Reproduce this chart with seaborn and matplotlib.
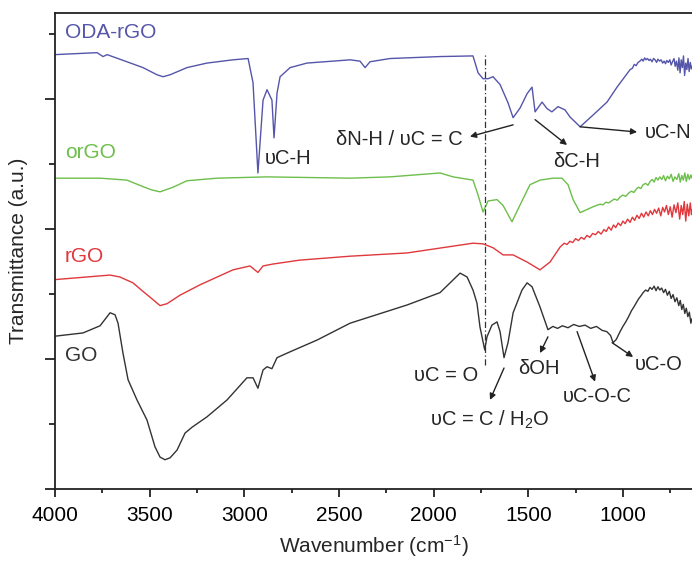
import numpy as np
import pandas as pd
import matplotlib
matplotlib.use("Agg")
import matplotlib.pyplot as plt
from matplotlib.ticker import MultipleLocator
import seaborn as sns

# ---------------- data ----------------
oda_w = [4000, 3778, 3746, 3725, 3620, 3535, 3461, 3429, 3392, 3303, 3197, 3060, 2980, 2954,
         2928, 2901, 2880, 2854, 2843, 2827, 2811, 2758, 2669, 2531, 2441, 2389, 2362, 2336,
         2230, 1966, 1792, 1765, 1739, 1712, 1686, 1649, 1607, 1580, 1543, 1506, 1480, 1464,
         1427, 1401, 1375, 1343, 1306, 1279, 1226, 1158, 1084, 1031, 962, 950, 940, 930, 920,
         910, 900, 893, 885, 878, 870, 862, 855, 846, 838, 830, 822, 815, 806, 798, 790, 782,
         775, 768, 760, 752, 745, 738, 730, 724, 717, 710, 704, 698, 692, 686, 680, 674, 668,
         662, 656, 650, 644, 638, 635]
oda_t = [6.68, 6.71, 6.65, 6.68, 6.57, 6.48, 6.37, 6.34, 6.37, 6.48, 6.55, 6.60, 6.62, 6.25,
         4.86, 5.98, 6.14, 5.98, 5.40, 6.09, 6.34, 6.48, 6.55, 6.58, 6.60, 6.58, 6.48, 6.57,
         6.62, 6.65, 6.66, 6.40, 6.31, 6.31, 6.34, 6.22, 5.94, 5.71, 5.86, 6.08, 6.18, 5.80,
         5.95, 5.85, 5.80, 5.88, 5.83, 5.72, 5.57, 5.75, 5.95, 6.18, 6.45, 6.47, 6.53, 6.51,
         6.56, 6.58, 6.61, 6.58, 6.63, 6.60, 6.62, 6.59, 6.61, 6.57, 6.62, 6.60, 6.56, 6.61,
         6.58, 6.60, 6.55, 6.58, 6.54, 6.59, 6.56, 6.60, 6.52, 6.57, 6.62, 6.50, 6.58, 6.44,
         6.63, 6.40, 6.60, 6.48, 6.66, 6.36, 6.55, 6.45, 6.62, 6.42, 6.56, 6.46, 6.50]

org_w = [4000, 3762, 3620, 3535, 3490, 3445, 3377, 3303, 3144, 2880, 2441, 2230, 1966, 1897,
         1792, 1765, 1739, 1712, 1665, 1633, 1586, 1543, 1491, 1438, 1369, 1322, 1290, 1263,
         1226, 1158, 1140, 1120, 1105, 1090, 1075, 1060, 1045, 1030, 1015, 1000, 985, 970, 955,
         942, 930, 918, 905, 893, 880, 868, 856, 845, 835, 825, 815, 805, 795, 785, 775, 765,
         755, 745, 735, 725, 715, 705, 697, 689, 681, 673, 665, 657, 649, 641, 635]
org_t = [4.78, 4.78, 4.75, 4.65, 4.60, 4.57, 4.64, 4.74, 4.78, 4.80, 4.78, 4.80, 4.86, 4.80,
         4.75, 4.52, 4.26, 4.43, 4.45, 4.36, 4.11, 4.37, 4.68, 4.75, 4.78, 4.78, 4.68, 4.45,
         4.25, 4.34, 4.36, 4.38, 4.37, 4.41, 4.40, 4.43, 4.46, 4.44, 4.49, 4.52, 4.50, 4.55,
         4.58, 4.56, 4.61, 4.64, 4.62, 4.68, 4.70, 4.67, 4.73, 4.76, 4.72, 4.79, 4.75, 4.80,
         4.76, 4.82, 4.74, 4.81, 4.77, 4.84, 4.73, 4.80, 4.76, 4.85, 4.72, 4.82, 4.75, 4.86,
         4.73, 4.84, 4.76, 4.83, 4.78]

rgo_w = [4000, 3709, 3657, 3588, 3540, 3498, 3445, 3408, 3340, 3234, 3060, 2970, 2928, 2901,
         2848, 2706, 2441, 2140, 1792, 1739, 1686, 1633, 1580, 1506, 1438, 1385, 1332, 1310,
         1295, 1280, 1265, 1250, 1235, 1220, 1205, 1190, 1175, 1160, 1145, 1130, 1115, 1100,
         1088, 1075, 1062, 1050, 1038, 1025, 1012, 1000, 988, 975, 962, 950, 938, 926, 914,
         902, 890, 878, 866, 855, 844, 833, 822, 811, 800, 790, 780, 770, 760, 750, 740, 730,
         720, 710, 700, 692, 684, 676, 668, 660, 652, 644, 638, 635]
rgo_t = [3.22, 3.29, 3.26, 3.17, 3.05, 2.95, 2.82, 2.85, 2.98, 3.14, 3.37, 3.43, 3.33, 3.43,
         3.46, 3.52, 3.58, 3.63, 3.78, 3.77, 3.71, 3.60, 3.60, 3.49, 3.37, 3.49, 3.72, 3.78,
         3.76, 3.81, 3.79, 3.85, 3.82, 3.87, 3.84, 3.90, 3.87, 3.93, 3.91, 3.96, 3.92, 3.99,
         3.96, 4.03, 3.98, 4.06, 4.02, 4.09, 4.05, 4.12, 4.08, 4.15, 4.10, 4.18, 4.13, 4.21,
         4.16, 4.24, 4.18, 4.26, 4.20, 4.28, 4.22, 4.30, 4.24, 4.32, 4.20, 4.33, 4.26, 4.36,
         4.22, 4.34, 4.18, 4.37, 4.25, 4.40, 4.15, 4.36, 4.22, 4.42, 4.12, 4.38, 4.20, 4.40,
         4.22, 4.30]

go_w = [4000, 3852, 3762, 3709, 3683, 3667, 3641, 3614, 3567, 3514, 3472, 3445, 3419, 3392,
        3355, 3313, 3276, 3197, 3091, 2986, 2954, 2928, 2901, 2880, 2854, 2827, 2758, 2616,
        2441, 2140, 1966, 1860, 1823, 1792, 1771, 1755, 1730, 1718, 1692, 1665, 1649, 1628,
        1607, 1580, 1533, 1506, 1480, 1438, 1396, 1370, 1345, 1320, 1290, 1260, 1230, 1200,
        1170, 1140, 1110, 1085, 1065, 1052, 1035, 1015, 1000, 985, 970, 955, 942, 930, 918,
        905, 893, 880, 868, 857, 846, 835, 825, 815, 805, 795, 785, 775, 765, 755, 745, 735,
        725, 715, 705, 697, 689, 681, 673, 665, 657, 649, 641, 635]
go_t = [2.35, 2.40, 2.51, 2.71, 2.68, 2.55, 2.09, 1.68, 1.37, 1.06, 0.65, 0.49, 0.45, 0.48,
        0.60, 0.86, 0.95, 1.11, 1.37, 1.71, 1.71, 1.55, 1.83, 1.88, 1.85, 2.02, 2.11, 2.29,
        2.55, 2.83, 3.02, 3.32, 3.26, 3.06, 2.86, 2.49, 2.14, 2.34, 2.52, 2.57, 2.42, 2.02,
        2.25, 2.71, 3.06, 3.17, 3.11, 2.80, 2.45, 2.50, 2.47, 2.51, 2.48, 2.53, 2.50, 2.52,
        2.47, 2.50, 2.44, 2.42, 2.36, 2.25, 2.30, 2.42, 2.50, 2.57, 2.65, 2.74, 2.80, 2.86,
        2.92, 2.97, 3.02, 3.06, 3.04, 3.10, 3.07, 3.12, 3.05, 3.11, 3.06, 3.09, 3.02, 3.07,
        2.98, 3.04, 2.93, 2.99, 2.88, 2.94, 2.82, 2.90, 2.76, 2.84, 2.70, 2.78, 2.65, 2.72,
        2.55, 2.62]

series_names = ["ODA-rGO", "orGO", "rGO", "GO"]
series_colors = ["#5555aa", "#6cbf4a", "#e0383c", "#333333"]
label_pos = [(3947, 7.02), (3947, 5.17), (3947, 3.57), (3947, 2.06)]

x_ticks = [4000, 3500, 3000, 2500, 2000, 1500, 1000]

# ---------------- style ----------------
sns.set_style("ticks")
plt.rcParams["font.family"] = ["Liberation Sans", "DejaVu Sans"]
plt.rcParams["mathtext.fontset"] = "custom"
plt.rcParams["mathtext.rm"] = "Liberation Sans"
plt.rcParams["mathtext.it"] = "Liberation Sans:italic"
plt.rcParams["mathtext.bf"] = "Liberation Sans:bold"

fig = plt.figure(figsize=(6.92, 5.61), dpi=100)
ax = fig.add_axes([55 / 692, (561 - 489) / 561, (692 - 55) / 692, (489 - 13) / 561])

frames = []
for name, w, t in zip(series_names, [oda_w, org_w, rgo_w, go_w], [oda_t, org_t, rgo_t, go_t]):
    frames.append(pd.DataFrame({"w": w, "t": t, "sample": name}))
df = pd.concat(frames, ignore_index=True)

sns.lineplot(data=df, x="w", y="t", hue="sample", palette=dict(zip(series_names, series_colors)),
             estimator=None, sort=False, lw=1.0, legend=False, ax=ax)

ax.set_xlim(4000, 635)
ax.set_ylim(0, 7.32)

# dash-dot line at C=O
ax.plot([1730, 1730], [1.91, 6.68], color="#333333", lw=0.9, ls=(0, (5, 2, 1, 2)))

for name, c, (px, py) in zip(series_names, series_colors, label_pos):
    ax.text(px, py, name, color=c, fontsize=15, ha="left", va="center")

fs = 14.5
ak = dict(arrowstyle="-|>", color="#222222", lw=1.0, mutation_scale=9, shrinkA=0, shrinkB=0)
ax.text(2891, 5.09, "υC-H", fontsize=fs, ha="left", va="center")
ax.annotate("", xy=(1808, 5.42), xytext=(1580, 5.60), arrowprops=ak)
ax.text(1845, 5.37, "δN-H / υC = C", fontsize=fs, ha="right", va="center")
ax.annotate("", xy=(1295, 5.29), xytext=(1464, 5.68), arrowprops=ak)
ax.text(1369, 5.03, "δC-H", fontsize=fs, ha="left", va="center")
ax.annotate("", xy=(925, 5.49), xytext=(1226, 5.57), arrowprops=ak)
ax.text(883, 5.49, "υC-N", fontsize=fs, ha="left", va="center", clip_on=False)

ax.text(1765, 1.75, "υC = O", fontsize=fs, ha="right", va="center")
ax.annotate("", xy=(1702, 1.37), xytext=(1628, 1.86), arrowprops=ak)
ax.text(1702, 1.06, "υC = C / H$_2$O", fontsize=fs, ha="center", va="center")
ax.annotate("", xy=(1438, 2.09), xytext=(1396, 2.34), arrowprops=ak)
ax.text(1554, 1.86, "δOH", fontsize=fs, ha="left", va="center")
ax.annotate("", xy=(1147, 1.65), xytext=(1242, 2.42), arrowprops=ak)
ax.text(1316, 1.42, "υC-O-C", fontsize=fs, ha="left", va="center")
ax.annotate("", xy=(946, 2.03), xytext=(1057, 2.25), arrowprops=ak)
ax.text(936, 1.91, "υC-O", fontsize=fs, ha="left", va="center")

# axes styling
ax.spines["right"].set_visible(False)
for s in ["left", "bottom", "top"]:
    ax.spines[s].set_linewidth(1.3)
    ax.spines[s].set_color("#222222")
ax.set_xticks(x_ticks)
ax.set_xticklabels([str(v) for v in x_ticks])
ax.xaxis.set_minor_locator(MultipleLocator(250))
ax.yaxis.set_major_locator(MultipleLocator(2))
ax.yaxis.set_minor_locator(MultipleLocator(1))
ax.tick_params(axis="x", which="major", direction="out", length=6, width=1.3, labelsize=15, pad=6,
               colors="#222222")
ax.tick_params(axis="x", which="minor", direction="out", length=3, width=1.3, colors="#222222")
ax.tick_params(axis="y", which="major", direction="out", length=7, width=1.3, labelleft=False,
               colors="#222222")
ax.tick_params(axis="y", which="minor", direction="out", length=4, width=1.3, colors="#222222")
ax.tick_params(axis="x", labelcolor="black")

ax.set_xlabel("Wavenumber (cm$^{-1}$)", fontsize=15, labelpad=6)
ax.set_ylabel("Transmittance (a.u.)", fontsize=15, labelpad=12)

fig.savefig("out.png", dpi=100)
